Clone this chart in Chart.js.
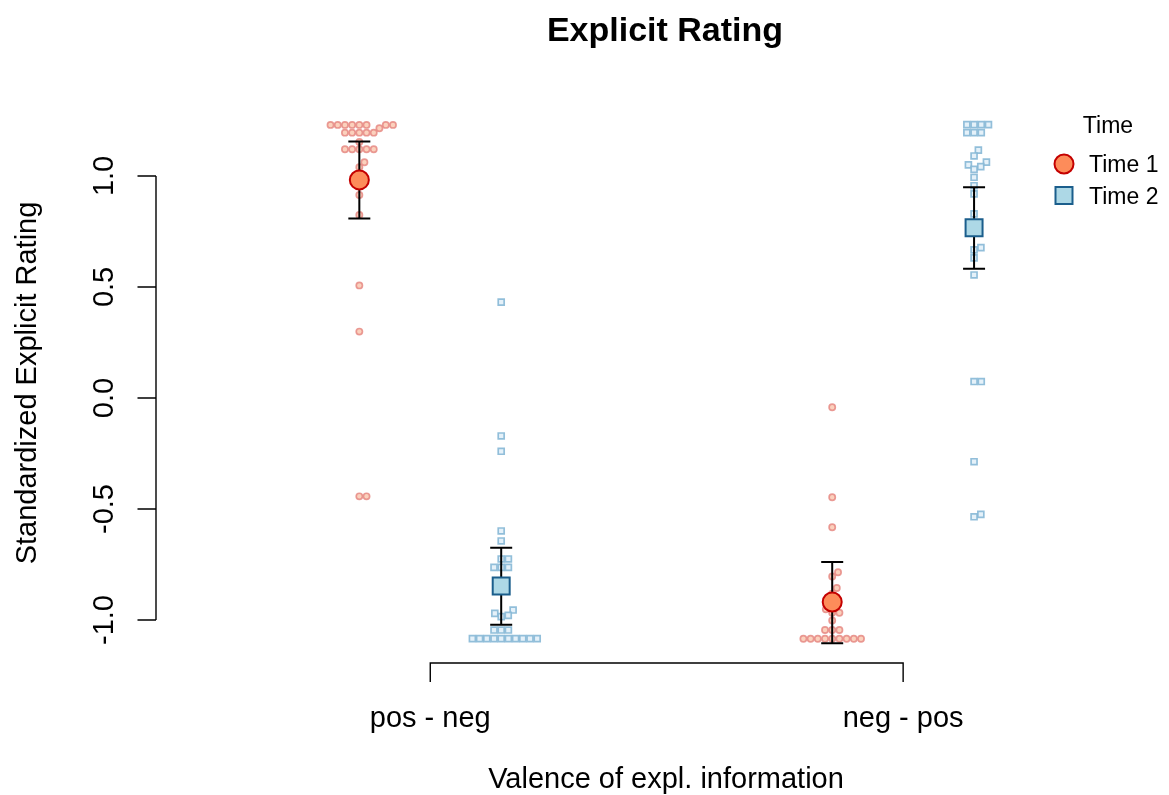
<!DOCTYPE html>
<html>
<head>
<meta charset="utf-8">
<script src="https://cdn.jsdelivr.net/npm/chart.js@4.4.1/dist/chart.umd.min.js"></script>
<style>
  html, body { margin: 0; padding: 0; background: #fff; }
  #wrap { width: 1169px; height: 795px; }
</style>
</head>
<body>
<div id="wrap"><canvas id="chart" width="1169" height="795"></canvas></div>
<script>
// categories on the x axis, and where each time sits around them
const categories = ['pos - neg', 'neg - pos'];
const timeLabels = ['Time 1', 'Time 2'];
const timeOffset = [-0.15, 0.15];
const yTicks = [-1.0, -0.5, 0.0, 0.5, 1.0];

// single ratings
const t1PosNeg = [1.23, 1.23, 1.23, 1.23, 1.23, 1.23, 1.23, 1.23, 1.215,
  1.195, 1.195, 1.195, 1.195, 1.195, 1.153, 1.12, 1.12, 1.12, 1.12, 1.12,
  1.062, 1.039, 0.955, 0.914, 0.824, 0.507, 0.299, -0.443, -0.443];
const t2PosNeg = [0.432, -0.171, -0.24, -0.599, -0.644, -0.725, -0.725,
  -0.763, -0.763, -0.763, -0.955, -0.97, -0.979, -0.985, -1.045, -1.045, -1.045,
  -1.084, -1.084, -1.084, -1.084, -1.084, -1.084, -1.084, -1.084, -1.084, -1.084];
const t1NegPos = [-0.042, -0.447, -0.582, -0.785, -0.804, -0.856, -0.881,
  -0.952, -0.967, -0.967, -1.002, -1.045, -1.045, -1.045,
  -1.084, -1.084, -1.084, -1.084, -1.084, -1.084, -1.084, -1.084, -1.084];
const t2NegPos = [1.231, 1.231, 1.231, 1.231, 1.195, 1.195, 1.195, 1.116,
  1.09, 1.062, 1.05, 1.042, 1.03, 0.994, 0.956, 0.919, 0.829, 0.677, 0.667,
  0.631, 0.554, 0.074, 0.074, -0.287, -0.524, -0.535];

// means with error bar ends
const t1Mean = [0.982, -0.919];
const t2Mean = [-0.847, 0.767];
const t1Low = [0.808, -1.105];
const t1High = [1.155, -0.739];
const t2Low = [-1.021, 0.582];
const t2High = [-0.674, 0.949];

const FONT = '"Liberation Sans", Arial, Helvetica, sans-serif';
const SPACING = 7.2; // px between swarm points

// beeswarm: lowest values first, each point goes to the free spot nearest the centre
function swarmOffsets(py) {
  const order = py.map((v, i) => i).sort((a, b) => py[b] - py[a]);
  const placed = [];
  const out = new Array(py.length);
  const d2 = SPACING * SPACING;
  order.forEach(i => {
    const y = py[i];
    const near = placed.filter(p => Math.abs(p.y - y) < SPACING);
    const cands = [0];
    near.forEach(p => {
      const dx = Math.sqrt(d2 - (p.y - y) * (p.y - y));
      cands.push(p.x + dx, p.x - dx);
    });
    cands.sort((a, b) => (Math.abs(a) - Math.abs(b)) || (b - a));
    const x = cands.find(c => near.every(p => (p.x - c) ** 2 + (p.y - y) ** 2 >= d2 - 1e-6));
    placed.push({ x: x, y: y });
    out[i] = x;
  });
  return out;
}

function groupPoints(values, cat, t, xs, ys) {
  const center = cat + 1 + timeOffset[t];
  if (!xs) return values.map(v => ({ x: center, y: v }));
  const pxX = xs.getPixelForValue(1) - xs.getPixelForValue(0);
  const offs = swarmOffsets(values.map(v => ys.getPixelForValue(v)));
  return values.map((v, i) => ({ x: center + offs[i] / pxX, y: v }));
}

function buildPoints(groups, t, xs, ys) {
  return groups.flatMap((vals, cat) => groupPoints(vals, cat, t, xs, ys));
}

function drawMarker(ctx, style, x, y, r) {
  ctx.save();
  ctx.fillStyle = style.bg;
  ctx.strokeStyle = style.border;
  ctx.lineWidth = 2;
  ctx.beginPath();
  if (style.shape === 'circle') {
    ctx.arc(x, y, r, 0, Math.PI * 2);
  } else {
    ctx.rect(x - r, y - r, 2 * r, 2 * r);
  }
  ctx.fill();
  ctx.stroke();
  ctx.restore();
}

const markerStyles = [
  { shape: 'circle', bg: '#FD8C5A', border: '#C40000' },
  { shape: 'rect', bg: '#ADD8E6', border: '#1B5E8C' }
];

const rStyle = {
  id: 'rStyle',
  beforeDatasetDraw(chart, args) {
    const ds = chart.data.datasets[args.index];
    if (!ds.errLow) return;
    const { ctx, scales: { x, y } } = chart;
    ctx.save();
    ctx.strokeStyle = '#000';
    ctx.lineWidth = 2;
    ds.data.forEach((p, i) => {
      const px = x.getPixelForValue(p.x);
      const lo = y.getPixelForValue(ds.errLow[i]);
      const hi = y.getPixelForValue(ds.errHigh[i]);
      ctx.beginPath();
      ctx.moveTo(px, lo); ctx.lineTo(px, hi);
      ctx.moveTo(px - 11, lo); ctx.lineTo(px + 11, lo);
      ctx.moveTo(px - 11, hi); ctx.lineTo(px + 11, hi);
      ctx.stroke();
    });
    ctx.restore();
  },
  afterDraw(chart) {
    const { ctx, chartArea: area, scales: { x, y } } = chart;
    ctx.save();
    ctx.strokeStyle = '#000';
    ctx.fillStyle = '#000';
    ctx.lineWidth = 1.4;

    // y axis
    const ax = area.left;
    ctx.beginPath();
    ctx.moveTo(ax, y.getPixelForValue(yTicks[0]));
    ctx.lineTo(ax, y.getPixelForValue(yTicks[yTicks.length - 1]));
    yTicks.forEach(v => {
      const py = y.getPixelForValue(v);
      ctx.moveTo(ax, py); ctx.lineTo(ax - 18.5, py);
    });
    ctx.stroke();
    ctx.font = '29px ' + FONT;
    ctx.textAlign = 'center';
    ctx.textBaseline = 'alphabetic';
    yTicks.forEach(v => {
      ctx.save();
      ctx.translate(113, y.getPixelForValue(v));
      ctx.rotate(-Math.PI / 2);
      ctx.fillText(v.toFixed(1), 0, 0);
      ctx.restore();
    });

    // x axis bracket
    const by = area.bottom + 13;
    const x1 = x.getPixelForValue(1), x2 = x.getPixelForValue(categories.length);
    ctx.beginPath();
    ctx.moveTo(x1, by + 19); ctx.lineTo(x1, by); ctx.lineTo(x2, by); ctx.lineTo(x2, by + 19);
    ctx.stroke();
    categories.forEach((c, i) => {
      ctx.fillText(c, x.getPixelForValue(i + 1), 727);
    });

    // axis titles
    ctx.fillText('Valence of expl. information', 666, 788);
    ctx.save();
    ctx.translate(36, 383);
    ctx.rotate(-Math.PI / 2);
    ctx.fillText('Standardized Explicit Rating', 0, 0);
    ctx.restore();

    // main title
    ctx.font = 'bold 34px ' + FONT;
    ctx.fillText('Explicit Rating', 665, 41);

    // legend
    ctx.font = '23px ' + FONT;
    ctx.fillText('Time', 1108, 133);
    ctx.textAlign = 'left';
    timeLabels.forEach((lab, i) => {
      const cy = 164 + i * 31.5;
      drawMarker(ctx, markerStyles[i], 1064, cy, i === 0 ? 9.5 : 8.5);
      ctx.fillStyle = '#000';
      ctx.fillText(lab, 1089, cy + 8);
    });
    ctx.restore();
  }
};

const t1Groups = [t1PosNeg, t1NegPos];
const t2Groups = [t2PosNeg, t2NegPos];

const chart = new Chart(document.getElementById('chart'), {
  type: 'scatter',
  data: {
    datasets: [
      {
        label: 'Time 1',
        data: buildPoints(t1Groups, 0),
        pointStyle: 'circle',
        pointRadius: 3.1,
        pointBorderWidth: 1.7,
        backgroundColor: 'rgba(251, 204, 182, 0.9)',
        borderColor: 'rgba(230, 138, 132, 0.85)',
        order: 2,
        clip: false
      },
      {
        label: 'Time 2',
        data: buildPoints(t2Groups, 1),
        pointStyle: 'rect',
        pointRadius: 4.2,
        pointBorderWidth: 1.7,
        backgroundColor: 'rgba(226, 240, 248, 0.9)',
        borderColor: 'rgba(135, 184, 214, 0.9)',
        order: 2,
        clip: false
      },
      {
        label: 'Time 1 mean',
        data: t1Mean.map((v, i) => ({ x: i + 1 + timeOffset[0], y: v })),
        errLow: t1Low,
        errHigh: t1High,
        pointStyle: 'circle',
        pointRadius: 9.5,
        pointBorderWidth: 2,
        backgroundColor: markerStyles[0].bg,
        borderColor: markerStyles[0].border,
        order: 1,
        clip: false
      },
      {
        label: 'Time 2 mean',
        data: t2Mean.map((v, i) => ({ x: i + 1 + timeOffset[1], y: v })),
        errLow: t2Low,
        errHigh: t2High,
        pointStyle: 'rect',
        pointRadius: 12,
        pointBorderWidth: 2,
        backgroundColor: markerStyles[1].bg,
        borderColor: markerStyles[1].border,
        order: 1,
        clip: false
      }
    ]
  },
  options: {
    responsive: false,
    animation: false,
    events: [],
    layout: { padding: { left: 156, right: 124, top: 110, bottom: 145 } },
    scales: {
      x: { type: 'linear', display: false, min: 0.42, max: 2.3 },
      y: { type: 'linear', display: false, min: -1.135, max: 1.297 }
    },
    plugins: {
      legend: { display: false },
      title: { display: false },
      tooltip: { enabled: false }
    }
  },
  plugins: [rStyle]
});

// second pass: spread the points once the scales are known
chart.data.datasets[0].data = buildPoints(t1Groups, 0, chart.scales.x, chart.scales.y);
chart.data.datasets[1].data = buildPoints(t2Groups, 1, chart.scales.x, chart.scales.y);
chart.update();
</script>
</body>
</html>
